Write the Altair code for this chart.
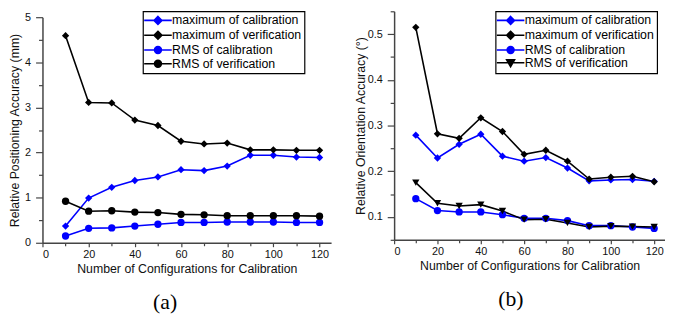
import math
import altair as alt
import pandas as pd

configs = [10, 20, 30, 40, 50, 60, 70, 80, 90, 100, 110, 120]
series_names = ["maximum of calibration", "maximum of verification",
                "RMS of calibration", "RMS of verification"]
series_colors = ["#0000ff", "#000000", "#0000ff", "#000000"]

# (a) positioning accuracy, mm
pos_max_cal = [0.37, 0.99, 1.23, 1.38, 1.46, 1.62, 1.60, 1.70, 1.94, 1.94, 1.90, 1.89]
pos_max_ver = [4.59, 3.11, 3.10, 2.72, 2.60, 2.25, 2.19, 2.21, 2.06, 2.06, 2.05, 2.05]
pos_rms_cal = [0.15, 0.32, 0.33, 0.37, 0.41, 0.45, 0.45, 0.46, 0.46, 0.46, 0.45, 0.45]
pos_rms_ver = [0.92, 0.70, 0.71, 0.68, 0.67, 0.63, 0.62, 0.60, 0.60, 0.60, 0.60, 0.59]

# (b) orientation accuracy, degrees
ori_max_cal = [0.279, 0.229, 0.259, 0.281, 0.233, 0.222, 0.230, 0.207, 0.179, 0.181, 0.182, 0.178]
ori_max_ver = [0.515, 0.282, 0.272, 0.317, 0.287, 0.237, 0.246, 0.222, 0.183, 0.187, 0.189, 0.177]
ori_rms_cal = [0.140, 0.114, 0.111, 0.111, 0.105, 0.097, 0.097, 0.092, 0.081, 0.081, 0.078, 0.075]
ori_rms_ver = [0.175, 0.130, 0.124, 0.127, 0.113, 0.094, 0.095, 0.087, 0.078, 0.080, 0.079, 0.078]

x_ticks = [0, 10, 20, 30, 40, 50, 60, 70, 80, 90, 100, 110, 120]
a_y_ticks = [0, 0.5, 1, 1.5, 2, 2.5, 3, 3.5, 4, 4.5, 5]
b_y_ticks = [0.05, 0.1, 0.15, 0.2, 0.25, 0.3, 0.35, 0.4, 0.45, 0.5, 0.55]

# legend glyphs: a short line with the series marker on it
LINE = "M-2.8,0L2.8,0"
DIAMOND = "M0,-0.8L0.8,0L0,0.8L-0.8,0Z"
CIRCLE = "M" + "L".join(
    f"{0.7 * math.cos(k * math.pi / 8):.3f},{0.7 * math.sin(k * math.pi / 8):.3f}"
    for k in range(16)) + "Z"
TRI_DOWN = "M-0.8,-0.6L0.8,-0.6L0,0.8Z"

SANS = "Liberation Sans"


def long_df(values):
    rows = []
    for name, vals in zip(series_names, values):
        for c, v in zip(configs, vals):
            rows.append({"config": c, "value": v, "series": name})
    return pd.DataFrame(rows)


def panel(df, marker_shapes, y_title, y_domain, y_range, y_ticks, major_test,
          label_expr, y_label_pad, y_title_pad, legend_x, legend_y,
          width, height, caption, cap_dx):
    x = alt.X("config:Q",
              scale=alt.Scale(domain=[0, 125], nice=False, zero=False),
              axis=alt.Axis(values=x_ticks, title="Number of Configurations for Calibration",
                            labelExpr="datum.value % 20 == 0 ? datum.label : ''",
                            tickSize={"condition": {"test": "datum.value % 20 == 0", "value": 4}, "value": 3}))
    y = alt.Y("value:Q",
              scale=alt.Scale(domain=y_domain, range=y_range, nice=False, zero=False),
              axis=alt.Axis(values=y_ticks, title=y_title, labelExpr=label_expr,
                            labelPadding=y_label_pad, titlePadding=y_title_pad,
                            tickSize={"condition": {"test": major_test, "value": 7}, "value": 4}))
    cscale = alt.Scale(domain=series_names, range=series_colors)
    path_map = {"diamond": DIAMOND, "circle": CIRCLE, "triangle-down": TRI_DOWN}
    paths = [LINE + path_map[s] for s in marker_shapes]
    leg = alt.Legend(title=None, orient="none", legendX=legend_x, legendY=legend_y,
                     strokeColor="#000000", fillColor="#ffffff", padding=3,
                     symbolSize=100, symbolStrokeWidth=1.6, symbolOffset=6,
                     labelOffset=8, labelFont=SANS, labelFontSize=12.5,
                     labelColor="black", rowPadding=0, labelLimit=300,
                     symbolOpacity=1)
    base = alt.Chart(df)
    lines = base.mark_line(strokeWidth=1.6).encode(
        x=x, y=y, stroke=alt.Stroke("series:N", scale=cscale, legend=leg),
        order="config:Q")
    layers = [lines]
    for shp in sorted(set(marker_shapes)):
        names = [n for n, s in zip(series_names, marker_shapes) if s == shp]
        layers.append(
            base.mark_point(filled=True, shape=shp, size=55, opacity=1).encode(
                x=x, y=y, fill=alt.Fill("series:N", scale=cscale, legend=leg)
            ).transform_filter(alt.FieldOneOfPredicate(field="series", oneOf=names))
        )
    legend_layer = base.mark_point(filled=True, opacity=0).encode(
        x=x, y=y,
        shape=alt.Shape("series:N", scale=alt.Scale(domain=series_names, range=paths), legend=leg),
        fill=alt.Fill("series:N", scale=cscale, legend=leg),
        stroke=alt.Stroke("series:N", scale=cscale, legend=leg),
    )
    layers.append(legend_layer)
    return alt.layer(*layers).properties(
        width=width, height=height,
        title=alt.TitleParams(caption, orient="bottom", font="Liberation Serif",
                              fontSize=22, fontWeight="normal", color="black",
                              anchor="middle", offset=18, dx=cap_dx))


df_a = long_df([pos_max_cal, pos_max_ver, pos_rms_cal, pos_rms_ver])
df_b = long_df([ori_max_cal, ori_max_ver, ori_rms_cal, ori_rms_ver])

chart_a = panel(df_a, ["diamond", "diamond", "circle", "circle"],
                "Relative Positioning Accuracy (mm)", [0, 5], [235, 6], a_y_ticks,
                "datum.value % 1 == 0",
                "datum.value % 1 == 0 ? format(datum.value, 'd') : ''",
                5, 3, 102, 0, 293, 235, "(a)", -22)
chart_b = panel(df_b, ["diamond", "diamond", "circle", "triangle-down"],
                "Relative Orientation Accuracy (°)", [0.05, 0.55], [232, 0], b_y_ticks,
                "abs(datum.value*10 - round(datum.value*10)) < 0.001",
                "abs(datum.value*10 - round(datum.value*10)) < 0.001 && datum.value > 0.06 ? format(datum.value, '.1f') : ''",
                5, 0, 103, 0, 275, 232, "(b)", -19)

chart = alt.hconcat(chart_a, chart_b, spacing=23).resolve_scale(
    shape="independent", fill="independent", stroke="independent"
).resolve_legend(
    shape="independent", fill="independent", stroke="independent"
).properties(
    padding={"left": 0, "top": 0, "right": 0, "bottom": 0}
).configure_view(stroke=None).configure_legend(
    strokeColor="#000000", strokeWidth=1.2, fillColor="#ffffff"
).configure_axis(
    grid=False, domainColor="#444444", domainWidth=1.5, tickColor="#444444", tickWidth=1.2,
    labelFont=SANS, labelFontSize=11, labelColor="#111111", labelPadding=2,
    titleFont=SANS, titleFontSize=12.5, titleFontWeight="normal", titleColor="#111111",
    titlePadding=2
).configure_axisX(titlePadding=3)

chart.save("out.html", embed_options={"renderer": "svg", "actions": False})
